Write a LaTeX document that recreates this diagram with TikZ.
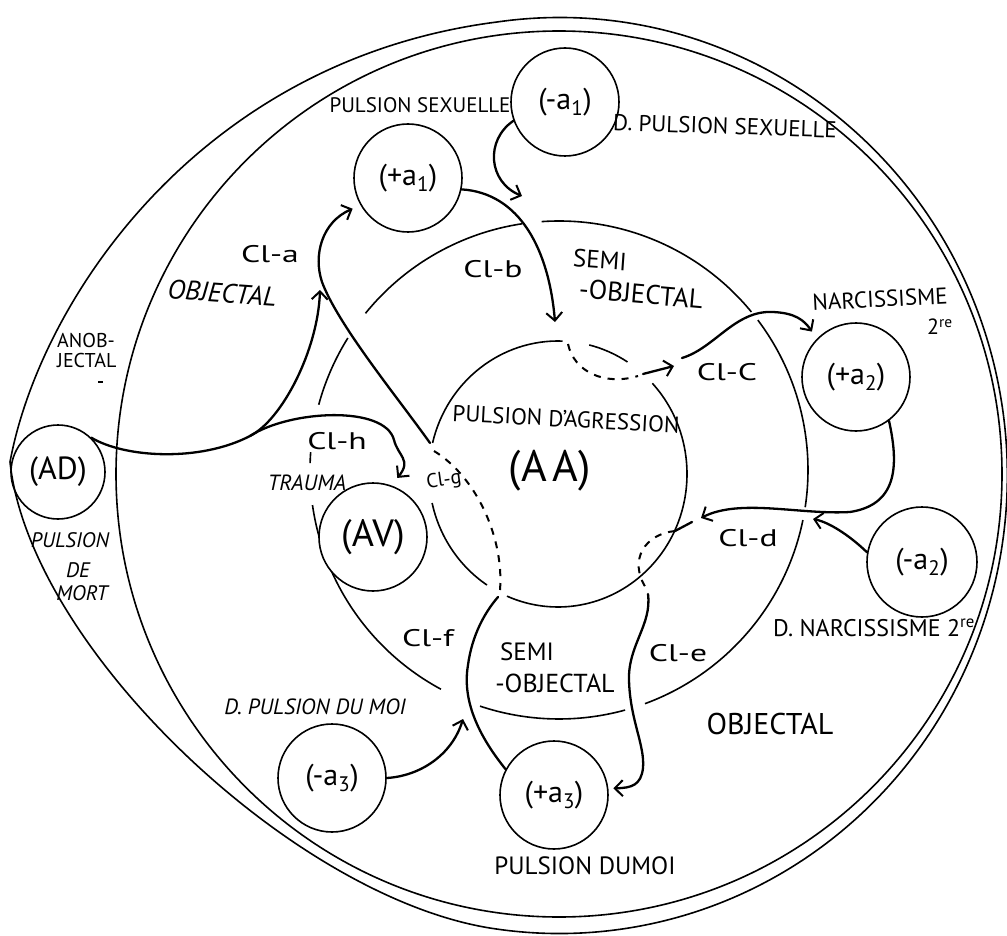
\documentclass[tikz,border=0pt]{standalone}
\usepackage{fontspec}
\setmainfont{PT Sans}
\usetikzlibrary{arrows.meta}
\newcommand\hsq[2]{\scalebox{#1}[1]{#2}}
\begin{document}
\begin{tikzpicture}[x=1pt,y=-1pt,
  ring/.style={line width=1.6pt},
  conn/.style={line width=2.3pt,line cap=round},
  dsh/.style={line width=2pt,dash pattern=on 7pt off 7pt},
  arr/.style={-{Straight Barb[length=8pt,width=16pt,line width=2pt]}},
  bub/.style={circle,draw,line width=1.6pt,minimum size=108pt,inner sep=0pt,fill=white,font=\fontsize{30}{30}\selectfont},
  lab/.style={inner sep=0pt},
  cl/.style={inner sep=0pt,font=\fontsize{24}{24}\selectfont},
]
\useasboundingbox (0,0) rectangle (1007,936);

% ---- semi-objectal ring, broken where the circuits cross it
\foreach \a/\b in {11.6/69.8, 74.6/108.5, 118.3/171.9, 181.6/184.1, 195.2/212, 219/261.5, 266/320.6, 323/368.6}
  \draw[ring] (559,470) ++(\a:249) arc[start angle=\a,end angle=\b,radius=249];

% ---- aggression core, opened where the dashed paths pass
\foreach \a/\b in {317/473.3, 123.4/167.4, 193.5/272, 284/302.6}
  \draw[ring] (558,474) ++(\a:129 and 133) arc[start angle=\a,end angle=\b,x radius=129,y radius=133];

% ---- objectal boundary
\draw[ring] (559,474) circle[radius=443];

% ---- drive nodes
\node[bub,minimum size=94pt,font=\fontsize{32}{32}\selectfont] (AD) at (58,472) {(AD)};
\node[bub] (a1p) at (408,178) {(+a\textsubscript{1})};
\node[bub] (a1m) at (565,102) {(-a\textsubscript{1})};
\node[bub] (a2p) at (856,377) {(+a\textsubscript{2})};
\node[bub,minimum size=110pt] (a2m) at (922,562) {(-a\textsubscript{2})};
\node[bub] (a3p) at (554,795) {(+a\textsubscript{3})};
\node[bub] (a3m) at (332,778) {(-a\textsubscript{3})};
\node[bub,font=\fontsize{38}{38}\selectfont] (AV) at (373,537) {(AV)};

% ---- anobjectal envelope, pointed on the left
\draw[ring] (10,462) .. controls (40,300) and (200,60) .. (497,22)
  arc[start angle=262,end angle=458,x radius=448,y radius=458]
  .. controls (299,902) and (30,650) .. (10,462);
\draw[line width=1.5pt] (98,382) -- (103,382);

% ---- junction points of the circuits
\coordinate (bEnd) at (555,322);
\coordinate (bIn) at (522,196);
\coordinate (aaTopIn) at (568,344);
\coordinate (aaTopOut) at (638,376);
\coordinate (cArrA) at (643,374);
\coordinate (cArrB) at (674,366);
\coordinate (cStart) at (682,358);
\coordinate (dEnd) at (701,518);
\coordinate (dIn1) at (692,522);
\coordinate (dIn2) at (675,531);
\coordinate (dOut) at (646,588);
\coordinate (eStart) at (648,594);
\coordinate (fEnd) at (498,597);
\coordinate (gIn) at (500,590);
\coordinate (gOut) at (434,451);
\coordinate (cusp) at (430,443);
\coordinate (adEnd) at (320,290);
\coordinate (hj) at (250,436);
\coordinate (d2End) at (813,519);
\coordinate (f2End) at (463,719);

% ---- circuits
\draw[conn,arr] (a1p.-12) .. controls (520,193) and (549,250) .. (bEnd);
\draw[conn,arr] (a1m.200) .. controls (485,140) and (488,182) .. (bIn);
\draw[dsh] (aaTopIn) .. controls (574,372) and (605,386) .. (aaTopOut);
\draw[conn,arr] (cArrA) -- (cArrB);
\draw[conn,arr] (cStart) .. controls (715,348) and (735,310) .. (773,312)
  .. controls (795,313) and (804,320) .. ([shift={(-6,-6)}]a2p.134);
\draw[conn,arr] (a2p.-53) .. controls (900,470) and (895,505) .. (850,512)
  .. controls (800,515) and (740,498) .. (dEnd);
\draw[conn] (dIn1) -- (dIn2);
\draw[dsh] (dIn2) .. controls (645,534) and (628,560) .. (dOut);
\draw[conn,arr] (eStart) .. controls (652,625) and (628,645) .. (629,680)
  .. controls (630,720) and (645,745) .. (643,768)
  .. controls (641,785) and (632,788) .. ([shift={(5,0)}]a3p.7);
\draw[conn] (a3p.152) .. controls (478,735) and (462,700) .. (468,665)
  .. controls (472,635) and (485,612) .. (fEnd);
\draw[dsh] (gIn) .. controls (504,540) and (478,478) .. (gOut);
\draw[conn,arr] (cusp) .. controls (398,398) and (338,325) .. (322,282)
  .. controls (313,255) and (322,222) .. ([shift={(-7,5)}]a1p.-152);
\draw[conn,arr] (AD.46) .. controls (125,458) and (200,462) .. (hj)
  .. controls (282,420) and (318,350) .. (adEnd);
\draw[conn,arr] (hj) .. controls (290,410) and (385,405) .. (394,440)
  .. controls (398,456) and (412,460) .. ([shift={(2,-9)}]AV.66);
\draw[conn,arr] (a2m.170) .. controls (848,534) and (828,522) .. (d2End);
\draw[conn,arr] (a3m.0) .. controls (420,776) and (452,755) .. (f2End);

% ---- labels
\node[lab,font=\fontsize{21}{21}\selectfont] (tps) at (420,105) {PULSION SEXUELLE};
\node[lab,font=\fontsize{23}{23}\selectfont,rotate=-2] (tdps) at (725,126) {D. PULSION SEXUELLE};
\node[lab,font=\fontsize{25}{25}\selectfont,rotate=-4] (tsemi1) at (600,260) {SEMI};
\node[lab,font=\fontsize{27}{27}\selectfont,rotate=-5] (tobj1) at (641,294) {-OBJECTAL};
\node[cl] (tclb) at (493,269) {\hsq{1.4}{Cl-b}};
\node[cl] (tcla) at (270,254) {\hsq{1.4}{Cl-a}};
\node[lab,font=\fontsize{27}{27}\selectfont\itshape,rotate=-4] (tobj2) at (222,293) {OBJECTAL};
\node[lab,font=\fontsize{20}{20}\selectfont,anchor=west] (tanob) at (57,340) {ANOB-};
\node[lab,font=\fontsize{20}{20}\selectfont,anchor=west] (tject) at (57,360) {JECTAL};
\node[lab,font=\fontsize{23}{23}\selectfont,rotate=3] (tnarc) at (880,299) {NARCISSISME};
\node[lab,font=\fontsize{22}{22}\selectfont] (tnarc2) at (940,327) {2\textsuperscript{re}};
\node[cl] (tclc) at (727,372) {\hsq{1.4}{Cl-C}};
\node[lab,font=\fontsize{23}{23}\selectfont,rotate=-3] (tagr) at (566,419) {PULSION D’AGRESSION};
\node[lab,font=\fontsize{44}{44}\selectfont] (tAA) at (550,471) {(A\hspace{6pt}A)};
\node[lab,font=\fontsize{22}{22}\selectfont\itshape] (ttrauma) at (307,483) {TRAUMA};
\node[cl] (tclh) at (337,441) {\hsq{1.4}{Cl-h}};
\node[cl,font=\fontsize{20}{20}\selectfont,rotate=8] (tclg) at (444,481) {Cl-g};
\node[cl] (tcld) at (748,538) {\hsq{1.4}{Cl-d}};
\node[cl] (tcle) at (678,653) {\hsq{1.4}{Cl-e}};
\node[lab,font=\fontsize{30}{30}\selectfont] (tobj3) at (770,724) {OBJECTAL};
\node[lab,font=\fontsize{25}{25}\selectfont] (tsemi2) at (527,652) {SEMI};
\node[lab,font=\fontsize{26}{26}\selectfont] (tobj4) at (555,683) {-OBJECTAL};
\node[cl] (tclf) at (428,638) {\hsq{1.4}{Cl-f}};
\node[lab,font=\fontsize{22}{22}\selectfont\itshape] (tdmoi) at (315,707) {D. PULSION DU MOI};
\node[lab,font=\fontsize{25}{25}\selectfont] (tmoi) at (585,866) {PULSION DUMOI};
\node[lab,font=\fontsize{24}{24}\selectfont] (tdnarc) at (874,628) {D. NARCISSISME 2\textsuperscript{re}};
\node[lab,font=\fontsize{21}{21}\selectfont\itshape] (tpul) at (70,540) {PULSION};
\node[lab,font=\fontsize{21}{21}\selectfont\itshape] (tde) at (78,570) {DE};
\node[lab,font=\fontsize{21}{21}\selectfont\itshape] (tmort) at (82,593) {MORT};
\end{tikzpicture}
\end{document}
